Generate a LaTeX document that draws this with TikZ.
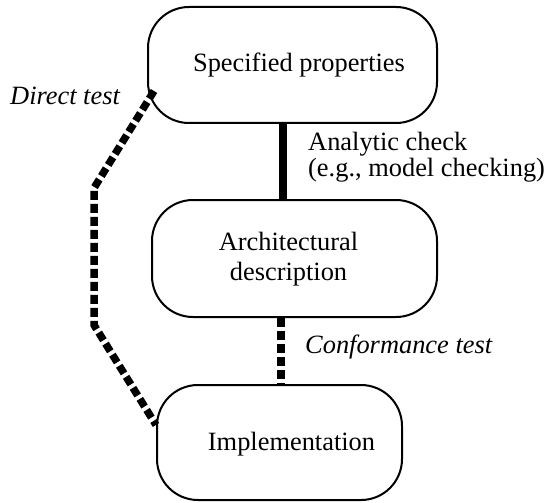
\documentclass[tikz,border=0pt]{standalone}
\usepackage{fontspec}
\setmainfont{Liberation Serif}
\usetikzlibrary{calc}
\begin{document}
\begin{tikzpicture}[x=1pt,y=1pt,
  box/.style={draw, line width=2pt, rounded corners=41pt, inner sep=0pt},
  txt/.style={inner sep=0pt, anchor=base, font=\fontsize{26.4}{30}\selectfont},
  ltxt/.style={inner sep=0pt, anchor=base west, font=\fontsize{26.4}{30}\selectfont},
  itxt/.style={ltxt, font=\fontsize{26.4}{30}\selectfont\itshape},
  solidlink/.style={line width=7.5pt},
  dashlink/.style={line width=7.5pt, dash pattern=on 9pt off 4pt}]
\useasboundingbox (0,0) rectangle (547,-503);
% boxes
\node[box, minimum width=289pt, minimum height=116pt] (b1) at (292.5,-65) {};
\node[box, minimum width=285pt, minimum height=117pt] (b2) at (294.5,-258.5) {};
\node[box, minimum width=245pt, minimum height=115pt] (b3) at (279.5,-442.5) {};
% box texts
\node[txt] (t1) at (299,-72) {Specified properties};
\node[txt] (t2a) at (288.5,-250) {Architectural};
\node[txt] (t2b) at (288.5,-280) {description};
\node[txt] (t3) at (291.5,-450) {Implementation};
% connector labels
\node[ltxt] (l1) at (308,-150) {Analytic check};
\node[ltxt] (l2) at (308,-176) {(e.g., model checking)};
\node[itxt] (l3) at (10,-105) {Direct test};
\node[itxt] (l4) at (305,-353) {Conformance test};
% connectors
\draw[solidlink] ([xshift=-9.5pt]b1.south) -- ([xshift=-9.5pt]b1.south |- b2.north);
\draw[dashlink] ([xshift=1.5pt]b3.north |- b2.south) -- ([xshift=1.5pt]b3.north);
\coordinate (d1) at (94,-188);
\coordinate (d2) at (94,-325);
\draw[dashlink] ($(b1.south west)+(7,33)$) -- (d1) -- (d2) -- ($(b3.north west)+(0,-41)$);
\end{tikzpicture}
\end{document}
